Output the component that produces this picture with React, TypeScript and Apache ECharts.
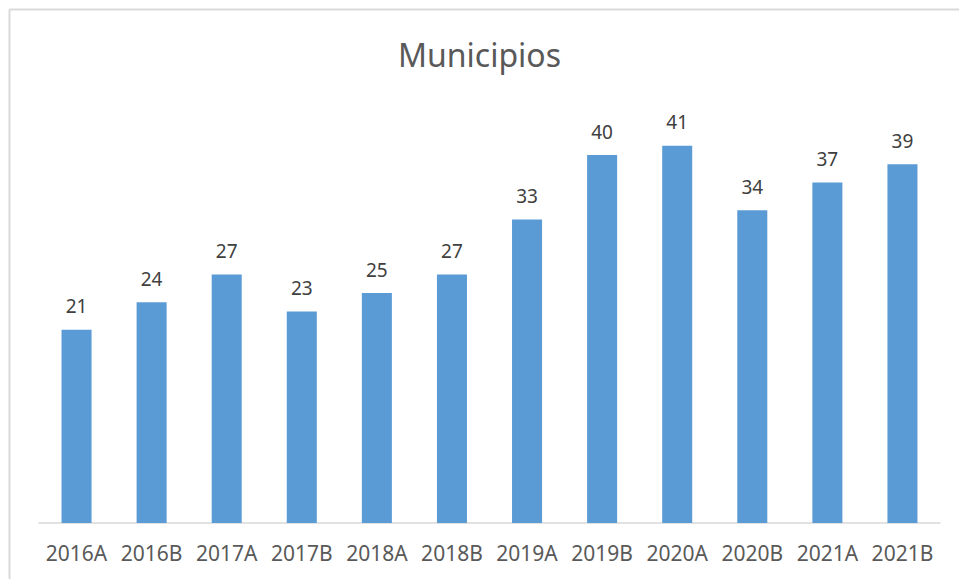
import React, { useEffect, useRef } from "react";
import * as echarts from "echarts";

const categories = ["2016A", "2016B", "2017A", "2017B", "2018A", "2018B", "2019A", "2019B", "2020A", "2020B", "2021A", "2021B"];
const values = [21, 24, 27, 23, 25, 27, 33, 40, 41, 34, 37, 39];
const titleText = "Municipios";

export default function App() {
  const ref = useRef<HTMLDivElement>(null);
  useEffect(() => {
    document.body.style.margin = "0";
    if (!ref.current) return;
    const chart = echarts.init(ref.current, null, { renderer: "svg" });
    const font = "'Noto Sans', sans-serif";
    chart.setOption({
      animation: false,
      backgroundColor: "#ffffff",
      title: {
        text: titleText,
        left: "center",
        top: 33,
        textStyle: { fontFamily: font, fontSize: 32, fontWeight: "normal", color: "#595959" },
      },
      graphic: [
        {
          type: "line",
          shape: { x1: 9.5, y1: 9.5, x2: 2000, y2: 9.5 },
          style: { stroke: "#d9d9d9", lineWidth: 2 },
          silent: true,
        },
        {
          type: "line",
          shape: { x1: 9.5, y1: 9.5, x2: 9.5, y2: 2000 },
          style: { stroke: "#d9d9d9", lineWidth: 2 },
          silent: true,
        },
      ],
      grid: { left: 39, right: 19, top: 109, bottom: 56 },
      xAxis: {
        type: "category",
        data: categories,
        axisLine: { lineStyle: { color: "#d9d9d9", width: 1.5 } },
        axisTick: { show: false },
        axisLabel: { fontFamily: font, fontSize: 21, color: "#595959", margin: 19, interval: 0 },
      },
      yAxis: {
        type: "value",
        min: 0,
        max: 45,
        show: false,
        splitLine: { show: false },
      },
      series: [
        {
          type: "bar",
          data: values,
          barWidth: "40%",
          itemStyle: { color: "#5b9bd5" },
          label: {
            show: true,
            position: "top",
            distance: 14,
            fontFamily: font,
            fontSize: 19,
            color: "#404040",
          },
        },
      ],
    });
    return () => chart.dispose();
  }, []);
  return <div ref={ref} style={{ width: 959, height: 579 }} />;
}
